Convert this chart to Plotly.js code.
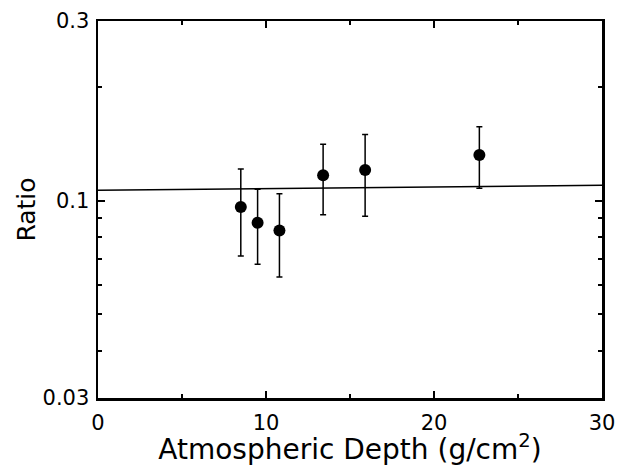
<!DOCTYPE html>
<html>
<head>
<meta charset="utf-8">
<script src="https://cdn.plot.ly/plotly-3.0.1.min.js"></script>
<style>html,body{margin:0;padding:0;background:#fff;}#chart{width:619px;height:466px;}</style>
</head>
<body>
<div id="chart"></div>
<script>
// Measured points
const depth = [8.5, 9.5, 10.8, 13.4, 15.9, 22.7];
const ratio = [0.0963, 0.0875, 0.0835, 0.1169, 0.1208, 0.1323];
const ratioHigh = [0.1215, 0.1073, 0.1045, 0.1413, 0.150, 0.1573];
const ratioLow = [0.0714, 0.0679, 0.0628, 0.0919, 0.091, 0.108];
// Fit line
const fitX = [0, 30];
const fitY = [0.1067, 0.110];
// Ticks
const yTickVals = [0.03, 0.1, 0.3];
const yTickText = ['0.03', '0.1', '0.3'];
const yMinorVals = [0.04, 0.05, 0.06, 0.07, 0.08, 0.09, 0.2];

const errPlus = ratioHigh.map((h, i) => h - ratio[i]);
const errMinus = ratio.map((v, i) => v - ratioLow[i]);

const font = {family: 'DejaVu Sans, sans-serif', color: '#000'};

const traces = [
  {x: fitX, y: fitY, mode: 'lines', line: {color: '#000', width: 1.5}, showlegend: false, hoverinfo: 'skip'},
  {x: depth, y: ratio, mode: 'markers', showlegend: false,
   marker: {color: '#000', size: 12, symbol: 'circle'},
   error_y: {type: 'data', symmetric: false, array: errPlus, arrayminus: errMinus, color: '#000', thickness: 1.5, width: 3}}
];

const layout = {
  width: 619, height: 466,
  margin: {l: 98, r: 17, t: 21, b: 68},
  paper_bgcolor: '#fff', plot_bgcolor: '#fff',
  font: Object.assign({size: 21}, font),
  xaxis: {
    range: [0, 30], dtick: 10, tick0: 0,
    ticks: 'inside', ticklen: 7, tickwidth: 2, tickcolor: '#000',
    minor: {dtick: 5, ticks: 'inside', ticklen: 4, tickwidth: 2, tickcolor: '#000', showgrid: false},
    showline: true, linecolor: '#000', linewidth: 2.5, mirror: 'ticks',
    showgrid: false, zeroline: false, ticklabelstandoff: 4,
    tickfont: Object.assign({size: 21}, font),
    title: {text: 'Atmospheric Depth (g/cm<sup>2</sup>)', font: Object.assign({size: 28}, font), standoff: 1}
  },
  yaxis: {
    type: 'log', range: [Math.log10(0.03), Math.log10(0.3)],
    tickmode: 'array', tickvals: yTickVals, ticktext: yTickText,
    ticks: 'inside', ticklen: 7, tickwidth: 2, tickcolor: '#000',
    minor: {tickmode: 'array', tickvals: yMinorVals, ticks: 'inside', ticklen: 4, tickwidth: 2, tickcolor: '#000', showgrid: false},
    showline: true, linecolor: '#000', linewidth: 2.5, mirror: 'ticks',
    showgrid: false, zeroline: false, ticklabelstandoff: 2,
    tickfont: Object.assign({size: 21}, font),
    title: {text: 'Ratio', font: Object.assign({size: 25}, font), standoff: 0}
  }
};

Plotly.newPlot('chart', traces, layout, {displayModeBar: false, staticPlot: true});
</script>
</body>
</html>
